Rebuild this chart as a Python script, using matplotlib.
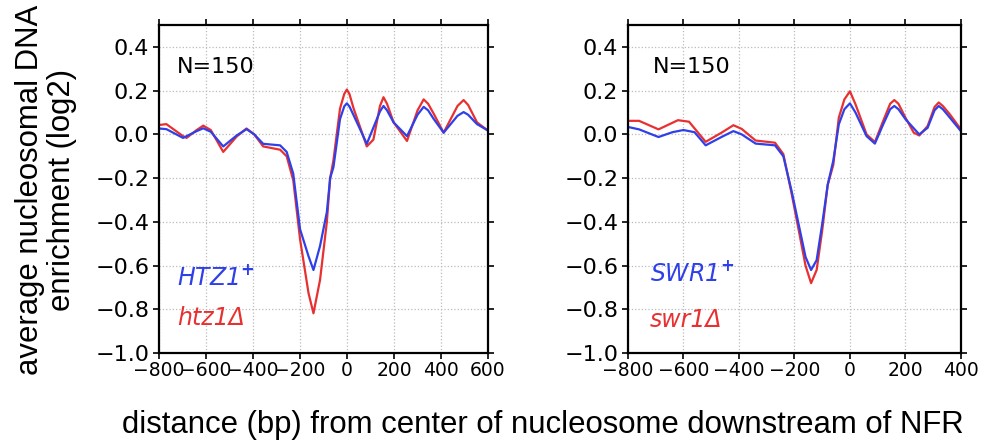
import matplotlib
matplotlib.use("Agg")
import matplotlib.pyplot as plt
from matplotlib import font_manager

# ---------------- data ----------------
left_red_x = [-800, -769, -698, -683, -640, -612, -580, -527, -470, -428, -395, -357, -285, -257, -229, -200, -164, -143, -115, -86, -72, -58, -30, -12, -1, 10, 28, 84, 112, 140, 155, 170, 198, 255, 300, 326, 345, 369, 411, 470, 496, 515, 553, 596]
left_red_y = [0.043, 0.047, -0.008, -0.016, 0.020, 0.040, 0.020, -0.080, -0.010, 0.027, 0.000, -0.055, -0.070, -0.100, -0.210, -0.480, -0.726, -0.818, -0.665, -0.400, -0.200, -0.118, 0.118, 0.185, 0.205, 0.185, 0.118, -0.055, -0.024, 0.130, 0.170, 0.140, 0.055, -0.030, 0.110, 0.160, 0.140, 0.094, 0.008, 0.130, 0.157, 0.135, 0.055, 0.020]

left_blue_x = [-800, -769, -698, -640, -612, -580, -527, -470, -428, -395, -357, -285, -257, -229, -200, -164, -143, -115, -86, -72, -58, -30, -12, -1, 10, 28, 84, 140, 155, 170, 198, 255, 300, 326, 345, 369, 411, 470, 496, 515, 553, 596]
left_blue_y = [0.027, 0.024, -0.016, 0.015, 0.028, 0.012, -0.055, -0.005, 0.024, 0.000, -0.043, -0.050, -0.080, -0.180, -0.434, -0.557, -0.620, -0.510, -0.355, -0.200, -0.150, 0.070, 0.128, 0.142, 0.128, 0.087, -0.043, 0.105, 0.130, 0.110, 0.055, -0.008, 0.090, 0.126, 0.110, 0.070, 0.008, 0.085, 0.102, 0.090, 0.047, 0.020]

right_red_x = [-800, -760, -690, -620, -580, -520, -460, -420, -390, -340, -270, -240, -210, -180, -160, -140, -120, -100, -80, -60, -40, -20, 0, 20, 60, 90, 120, 145, 160, 175, 200, 230, 250, 280, 305, 320, 335, 360, 400]
right_red_y = [0.062, 0.062, 0.023, 0.065, 0.058, -0.034, 0.010, 0.042, 0.025, -0.028, -0.038, -0.090, -0.272, -0.468, -0.600, -0.680, -0.620, -0.440, -0.230, -0.140, 0.077, 0.160, 0.197, 0.138, 0.000, -0.035, 0.062, 0.140, 0.157, 0.140, 0.077, 0.008, -0.005, 0.038, 0.125, 0.146, 0.130, 0.092, 0.023]

right_blue_x = [-800, -760, -690, -640, -600, -560, -520, -460, -420, -390, -340, -270, -240, -210, -180, -160, -140, -120, -100, -80, -60, -40, -20, 0, 20, 60, 90, 120, 145, 160, 175, 200, 250, 280, 305, 320, 335, 360, 400]
right_blue_y = [0.034, 0.023, -0.012, 0.010, 0.020, 0.010, -0.050, -0.010, 0.015, 0.000, -0.042, -0.050, -0.100, -0.260, -0.440, -0.560, -0.620, -0.575, -0.410, -0.230, -0.120, 0.046, 0.115, 0.142, 0.100, -0.008, -0.042, 0.046, 0.115, 0.130, 0.115, 0.070, 0.000, 0.030, 0.110, 0.130, 0.115, 0.077, 0.015]

yticks = [-1.0, -0.8, -0.6, -0.4, -0.2, 0.0, 0.2, 0.4]
left_xticks = [-800, -600, -400, -200, 0, 200, 400, 600]
right_xticks = [-800, -600, -400, -200, 0, 200, 400]

left_labels = ("HTZ1", "htz1\u0394")
right_labels = ("SWR1", "swr1\u0394")
n_text = "N=150"
ylabel = "average nucleosomal DNA\nenrichment (log2)"
xlabel = "distance (bp) from center of nucleosome downstream of NFR"

BLUE = "#3040e8"
RED = "#e83030"

installed = {f.name for f in font_manager.fontManager.ttflist}
narrow = "Liberation Sans Narrow" if "Liberation Sans Narrow" in installed else (
    "DejaVu Sans Condensed" if "DejaVu Sans Condensed" in installed else "DejaVu Sans")
label_font = ["Liberation Sans", "DejaVu Sans"]

fig = plt.figure(figsize=(9.82, 4.47), dpi=100)
axL = fig.add_axes([0.162, 0.210, 0.335, 0.734])
axR = fig.add_axes([0.6395, 0.210, 0.339, 0.734])


def style(ax, xticks, xlim):
    ax.set_xlim(*xlim)
    ax.set_ylim(-1.0, 0.5)
    ax.set_xticks(xticks)
    ax.set_yticks(yticks)
    ax.set_yticklabels([f"{v:.1f}".replace("-", "\u2212") for v in yticks], fontsize=16)
    ax.set_xticklabels([str(v).replace("-", "\u2212") for v in xticks],
                       fontsize=13.5, family=narrow)
    ax.grid(True, linestyle=":", color="#bbbbbb", linewidth=0.9)
    ax.tick_params(direction="out", length=4, width=1.2, top=True, right=True,
                   labeltop=False, labelright=False)
    ax.tick_params(axis="x", pad=2)
    ax.tick_params(axis="y", pad=3)
    for s in ax.spines.values():
        s.set_linewidth(1.6)


style(axL, left_xticks, (-800, 600))
style(axR, right_xticks, (-800, 400))

axL.plot(left_red_x, left_red_y, color=RED, lw=1.6)
axL.plot(left_blue_x, left_blue_y, color=BLUE, lw=1.6)
axR.plot(right_red_x, right_red_y, color=RED, lw=1.6)
axR.plot(right_blue_x, right_blue_y, color=BLUE, lw=1.6)

for ax, labs, nx, lx, ly1, ly2 in ((axL, left_labels, 0.055, 0.055, 0.232, 0.107),
                                   (axR, right_labels, 0.075, 0.065, 0.244, 0.100)):
    ax.text(nx, 0.872, n_text, transform=ax.transAxes, fontsize=16, va="center", ha="left")
    ax.text(lx, ly1, labs[0] + r"$^{\mathbf{+}}$", transform=ax.transAxes, fontsize=17,
            color=BLUE, style="italic", va="center", ha="left")
    ax.text(lx, ly2, labs[1], transform=ax.transAxes, fontsize=17,
            color=RED, style="italic", va="center", ha="left")

fig.text(0.047, 0.575, ylabel, fontsize=22.4, rotation=90, ha="center", va="center",
         linespacing=1.1, multialignment="center", family=label_font)
fig.text(0.553, 0.049, xlabel, fontsize=22.4, ha="center", va="center", family=label_font)

fig.savefig("out.png", dpi=100)
